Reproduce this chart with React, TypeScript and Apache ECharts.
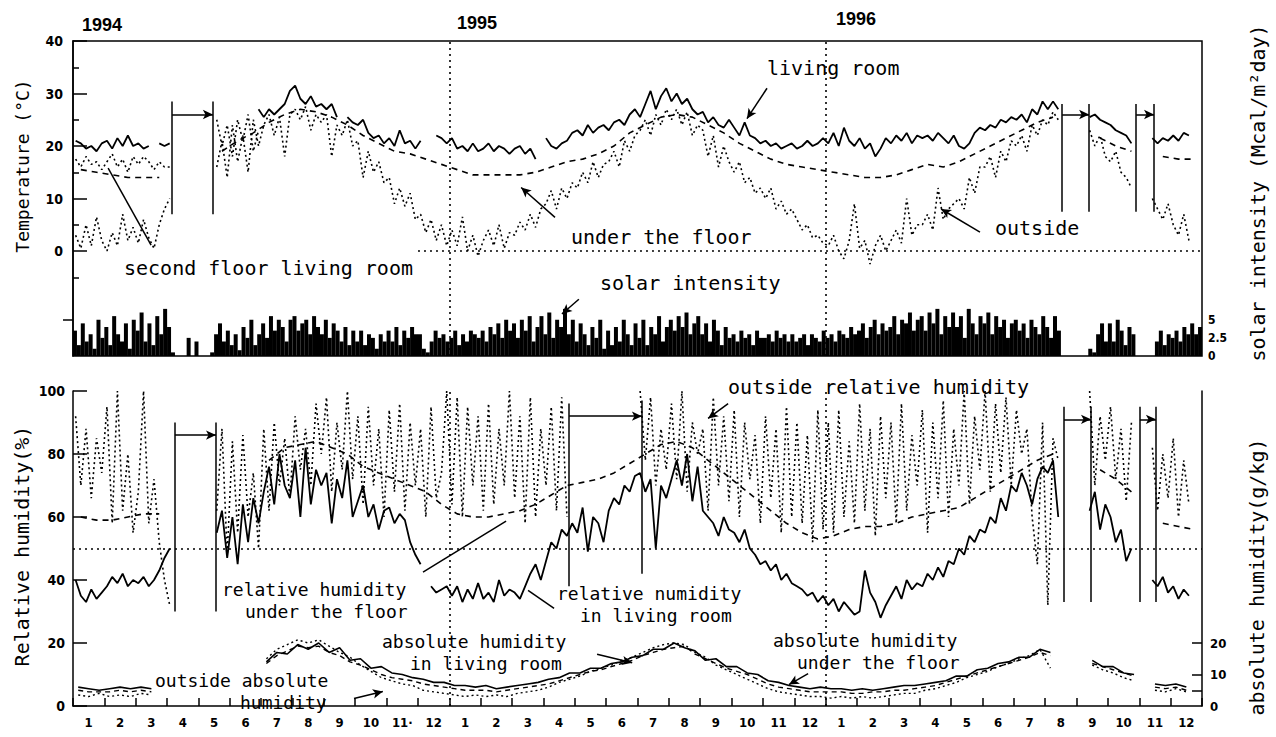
import React, { useEffect, useRef } from "react";
import * as echarts from "echarts";

// ---------- labels ----------
const MONTH_LABELS = [
  "1", "2", "3", "4", "5", "6", "7", "8", "9", "10", "11·", "12",
  "1", "2", "3", "4", "5", "6", "7", "8", "9", "10", "11", "12",
  "1", "2", "3", "4", "5", "6", "7", "8", "9", "10", "11", "12",
];
const YEAR_LABELS = ["1994", "1995", "1996"];
const TEMP_TICK_LABELS = [0, 10, 20, 30, 40];
const SOLAR_TICK_LABELS = [0, 2.5, 5];
const RH_TICK_LABELS = [0, 20, 40, 60, 80, 100];
const ABS_TICK_LABELS = [0, 10, 20];

// ---------- data (month index 0 = Jan 1994) ----------
// living room temperature, 6 samples per month
const LIVING_T: (number | null)[] = [
  21, 20.5, 19.5, 20, 19, 20.5,
  21, 19.5, 21.5, 20, 22, 20,
  20.5, 19.5, 20, null, 20.5, 20,
  20.5, null, null, null, null, null,
  null, null, null, null, null, null,
  null, null, null, null, null, 27,
  25.5, 27, 26, 27, 28, 30.5,
  31.5, 29, 28, 29.5, 27.5, 28,
  27, 28, 25.5, null, 25.5, 24.5,
  24, 25, 22.5, 21.5, 22, 20.5,
  21.5, 20, 23, 20.5, 21, 19.5,
  21, null, null, 22, 21.5, 20.5,
  21.5, 19.5, 20, 19, 20.5, 19,
  19.5, 20.5, 19, 20, 19.5, 18.5,
  19.5, 20, 18.5, 19.5, 17.5, null,
  21.5, 20, 19.5, 20.5, 21, 22.5,
  23, 22, 24, 22.5, 23.5, 24,
  23, 24.5, 25, 24, 26, 27,
  25.5, 28, 30.5, 27, 29.5, 31,
  28.5, 30, 28, 29, 27, 26,
  26.5, 24.5, 25.5, 24, 23.5, 25,
  23.5, 22, 24.5, 22, 21.5, 20.5,
  21, 20, 20.5, 19.5, 20, 20.5,
  19.5, 20, 21, 20, 20.5, 21.5,
  20.5, 22.5, 20, 23.5, 21, 20,
  21.5, 19.5, 20.5, 18, 19.5, 21.5,
  20.5, 22, 21, 22.5, 20.5, 22,
  21.5, 22, 21, 22.5, 21.5, 20.5,
  22, 20, 19.5, 20.5, 22.5, 23.5,
  23, 24, 23.5, 25, 24.5, 25.5,
  25, 26, 24.5, 27, 26, 28.5,
  27, 28.5, 27, null, null, null,
  null, null, 25.5, 26, 25, 24.5,
  24, 23, 22.5, 22, 20.5, null,
  null, null, 21.5, 20.5, 21.5, 21,
  22, 21, 22.5, 22, null, null,
];

// outside temperature, 6 samples per month
const OUTSIDE_T: (number | null)[] = [
  3, 0.5, 5, 1, 6.5, 2,
  0, 3.5, 1, 7, 2, 4.5,
  1.5, 6, 2.5, 0.5, 5, 8,
  10, null, null, null, null, null,
  null, null, null, 16, 21, 14,
  24, 17, 22, 15, 25, 20,
  24, 26, 22, 25.5, 18, 26,
  27, 25, 27.5, 23, 26, 24.5,
  26, 18, 24, 22, 25, 20,
  21, 14, 19, 15, 17, 13,
  14, 9, 12, 8.5, 11, 6,
  7, 3.5, 6, 2, 5, 1,
  4, 1, 6.5, 0, 3, -1,
  2, 4, 1, 5, 0.5, 3.5,
  3, 5.5, 4, 7, 4.5, 8,
  9, 11.5, 8, 12, 10, 13,
  12, 15, 13, 17, 14, 16.5,
  17, 19, 16, 21, 19, 22,
  23, 25, 22, 26, 24, 27,
  25, 27, 24, 26.5, 22, 24,
  23, 18, 22, 16, 20, 17,
  15, 17, 13, 14, 11, 12,
  10, 12, 8, 9.5, 7, 8,
  6, 4, 5, 2.5, 3, 1.5,
  1, 3, 0, -1.5, 2, 9,
  0.5, 2, -2.5, 1, 3, 0,
  2, 4, 1.5, 10, 3, 5,
  5, 7, 4, 12, 6, 8,
  9, 10, 8, 14, 11, 16,
  16, 18, 14, 19, 17, 21,
  20, 22, 19, 24, 22, 25,
  24, 26.5, 25, null, null, null,
  null, null, 23, 20, 22, 18,
  17, 19, 15, 14, 12, null,
  null, null, 10, 8, 6, 9,
  5, 3, 7, 2, null, null,
];

// second floor living room temperature, 6 samples per month (Jan-Jun 1994)
const SECOND_T: (number | null)[] = [
  17.5, 16, 18, 16.5, 17, 15.5,
  17, 18.5, 16, 17.5, 15, 18,
  16.5, 18, 17, 15.5, 17, 16,
  16, null, null, null, null, null,
  null, null, null, 25, 20, 24,
  18, 25, 21, 26, 19, 23,
];

// under the floor temperature, 2 samples per month
const UNDER_T: (number | null)[] = [
  15.5, 15, 14.5, 14, 14, 14, null, null, null, 19, 21, 22.5,
  24.5, 26, 27, 26.5, 25.5, 24, 22, 20.5, 19, 18.5, 17.5, 16.5,
  15.5, 14.5, 14.5, 14.5, 14.5, 15, 16, 17, 17.5, 18.5, 20, 22.5,
  24, 25.5, 26, 25.5, 24, 22.5, 20.5, 19, 17.5, 16.5, 16, 15.5,
  15, 14.5, 14, 14, 14.5, 15.5, 16.5, 16, 17, 18.5, 20, 21.5,
  23, 24.5, 25.5, null, null, 21.5, 20, 19, null, 18, 17.5, 17.5,
];

// solar intensity (Mcal/m2day), 8 samples per month
const SOLAR: number[] = [
  3.5, 1.5, 4.5, 2, 3, 1, 5, 2.5,
  4, 1.5, 5.5, 3, 2, 4.5, 1, 5,
  3.5, 6, 2, 4.5, 1.5, 5.5, 3, 6.5,
  4, 0.5, 0, 0, 0, 2.5, 0, 2,
  0, 0, 0, 0.5, 3, 4.5, 2, 3.5,
  1.5, 3, 0.8, 4, 2.5, 5, 1.5, 3,
  4.5, 2.5, 5.5, 3.5, 5, 4, 2, 5,
  5.5, 3.5, 4.5, 5, 3, 5.5, 4, 3,
  5, 2.5, 4.5, 3.5, 2, 4, 1.5, 3.5,
  2, 3.5, 1.5, 3, 2.5, 1, 3, 2,
  3.5, 2, 4, 1.5, 3.5, 2.5, 4, 3,
  3, 1, 0.5, 2, 3.5, 2.5, 3, 2,
  2.5, 3.5, 1.5, 3, 2, 3.5, 3, 2.5,
  3.5, 2, 4, 3, 4.5, 2.5, 5, 3.5,
  4.5, 2.5, 5, 3.5, 5.5, 2, 4, 5.5,
  3, 6, 2.5, 5, 4, 6.5, 3, 5,
  2, 4.5, 3, 1.5, 4, 2.5, 5, 1,
  3.5, 1.5, 4, 2, 5, 3, 1.5, 4.5,
  2.5, 5, 1.5, 4, 3, 5.5, 2, 4,
  5, 3.5, 5.5, 4, 6, 3, 4.5, 5.5,
  3, 4.5, 2, 5, 3.5, 1.5, 4, 2.5,
  3, 2, 3.5, 2.5, 3, 1.5, 3.5, 2.5,
  2.5, 3, 2, 3.5, 2.5, 3, 2, 3,
  2, 2.5, 3, 1.5, 3, 2.5, 2, 3.5,
  2.5, 3, 2, 3.5, 3, 2.5, 4, 3,
  3.5, 4.5, 2.5, 4, 5, 3, 4.5, 3.5,
  4, 5.5, 3, 5, 4.5, 6, 3.5, 5,
  5.5, 3.5, 6, 4.5, 6.5, 3, 5.5, 4,
  6, 4, 5.5, 2.5, 6.5, 4.5, 3, 5.5,
  4.5, 6, 3, 5.5, 4, 5, 2.5, 4.5,
  5, 3.5, 4.5, 2.5, 5, 4, 3, 5.5,
  4, 2.5, 5.5, 3.5, 0, 0, 0, 0,
  0, 0, 0, 1, 0.5, 3, 4.5, 2,
  4.5, 2, 5, 3.5, 1.5, 4, 3, 0,
  0, 0, 0, 0, 2, 3.5, 1.5, 3,
  2.5, 3.5, 2, 4, 3, 4.5, 3, 4,
];

// relative humidity in living room (%), 6 samples per month
const LIVING_RH: (number | null)[] = [
  40, 35, 33, 37, 34, 36,
  38, 41, 39, 42, 38, 40,
  39, 41, 38, 40, 43, 47,
  50, null, null, null, null, null,
  null, null, null, 55, 62, 47,
  60, 45, 64, 52, 66, 58,
  68, 76, 64, 80, 70, 66,
  78, 60, 82, 64, 75, 70,
  74, 58, 72, 66, 78, 60,
  65, 70, 60, 64, 56, 62,
  63, 58, 61, 59, 52, 48,
  45, null, 38, 36, 37, 38,
  35, 38, 33, 37, 34, 39,
  34, 36, 33, 40, 35, 37,
  36, 34, 38, 42, 45, 40,
  46, 52, 50, 56, 54, 58,
  55, 63, 49, 60, 58, 52,
  62, 66, 64, 70, 68, 73,
  74, 68, 72, 50, 70, 66,
  72, 78, 70, 80, 65, 76,
  62, 60, 58, 54, 60, 56,
  55, 52, 56, 50, 48, 45,
  46, 43, 45, 40, 42, 39,
  38, 37, 35, 36, 33, 35,
  32, 34, 30, 33, 31, 29,
  30, 43, 36, 33, 28, 32,
  35, 38, 34, 40, 37, 39,
  38, 42, 40, 44, 41, 46,
  45, 50, 48, 54, 52, 56,
  55, 60, 58, 66, 62, 70,
  68, 74, 70, 64, 72, 76,
  74, 78, 60, null, null, null,
  null, null, 62, 68, 56, 64,
  60, 52, 56, 46, 50, null,
  null, null, 40, 38, 41, 36,
  38, 34, 37, 35, null, null,
];

// outside relative humidity (%), 6 samples per month
const OUTSIDE_RH: (number | null)[] = [
  92, 70, 88, 66, 85, 74,
  95, 58, 100, 62, 80, 55,
  68, 100, 58, 72, 52, 40,
  32, null, null, null, null, null,
  null, null, null, 62, 88, 48,
  84, 55, 86, 60, 74, 50,
  88, 62, 90, 70, 85, 66,
  92, 75, 88, 70, 96, 80,
  98, 68, 90, 75, 100, 72,
  92, 64, 95, 70, 88, 60,
  94, 68, 96, 62, 90, 70,
  88, 60, 95, 66, 74, 100,
  64, 98, 60, 95, 70, 92,
  62, 96, 64, 88, 70, 100,
  66, 92, 58, 98, 60, 88,
  70, 95, 62, 98, 60, null,
  null, null, null, null, null, null,
  null, null, null, null, null, null,
  100, 78, 98, 70, 88, 75,
  96, 72, 100, 68, 90, 80,
  88, 62, 98, 70, 92, 65,
  94, 60, 90, 72, 86, 58,
  92, 66, 88, 55, 95, 60,
  90, 58, 86, 52, 94, 56,
  90, 55, 94, 60, 84, 58,
  96, 62, 88, 54, 92, 66,
  90, 58, 96, 62, 86, 70,
  94, 55, 90, 66, 97, 60,
  88, 70, 100, 64, 92, 75,
  100, 68, 96, 74, 98, 70,
  94, 80, 88, 60, 45, 90,
  32, 85, 78, null, null, null,
  null, null, 100, 70, 92, 78,
  95, 72, 88, 65, 90, null,
  null, null, 82, 62, 80, 66,
  85, 60, 78, 64, null, null,
];

// relative humidity under the floor (%), 2 samples per month
const UNDER_RH: (number | null)[] = [
  60, 59, 59, 60, 61, 61, null, null, null, null, null, null,
  78, 82, 83, 84, 82, 80, 76, 74, 72, 70, 68, 64,
  61, 60, 60, 61, 62, 64, 67, 70, 71, 72, 74, 77,
  80, 83, 84, 82, 78, 74, 70, 66, 62, 58, 55, 53,
  54, 56, 57, 57, 58, 60, 61, 62, 63, 66, 69, 72,
  75, 78, 80, null, null, 75, 72, 68, null, 58, 57, 56,
];

// absolute humidity (g/kg), 3 samples per month
const ABS_LIVING: (number | null)[] = [
  6, 5.5, 5, 5.5, 6, 5.5, 6, 5.5, null,
  null, null, null, null, null, null, null, null, null,
  14, 17, 16.5, 19.5, 18, 20, 17, 18.5, 14.5,
  15, 12, 12.5, 10.5, 10, 9, 8.5, 7.5, 7.5,
  6.5, 6.5, 6, 6.5, 5.5, 6, 6.5, 7, 7.5,
  8.5, 9, 10.5, 10.5, 12, 12, 13.5, 14, 15.5,
  16, 18, 18, 20, 18.5, 17.5, 14.5, 15, 12.5,
  12.5, 10.5, 10, 8, 7.5, 6.5, 6, 5.5, 6,
  5.5, 5.5, 5, 5.5, 5, 5.5, 6, 6.5, 6.5,
  7, 7.5, 8, 9.5, 9.5, 11.5, 12, 13.5, 14,
  15.5, 15.5, 18, 17, null, null, null, 14.5, 12.5,
  12.5, 10.5, 10, null, 7, 6.5, 7, 6, null,
];
const ABS_UNDER: (number | null)[] = [
  5, 4.5, 4.5, 4.5, 5, 4.5, 5, 4.5, null,
  null, null, null, null, null, null, null, null, null,
  13.5, 16, 17.5, 19, 18.5, 19, 17, 16, 14,
  13, 11.5, 10, 9, 8.5, 8, 7, 6.5, 6,
  5.5, 5, 5, 5, 4.5, 5, 5.5, 6, 6.5,
  7, 8, 9, 10, 11, 11.5, 12.5, 13.5, 14.5,
  16, 17, 18, 18.5, 19, 16.5, 15, 13.5, 12,
  11, 10, 8.5, 7, 6, 5.5, 5, 4.5, 4.5,
  4.5, 4.5, 4, 4, 4.5, 4.5, 5, 5, 5.5,
  6, 6.5, 7.5, 8.5, 9.5, 10.5, 11.5, 12.5, 13.5,
  14.5, 15.5, 17, 16, null, null, null, 13.5, 12.5,
  11.5, 10.5, 9.5, null, 6, 5.5, 6, 5, null,
];
const ABS_OUTSIDE: (number | null)[] = [
  3.5, 3, 4, 3, 3.5, 3, 4, 3.5, null,
  null, null, null, null, null, null, null, null, null,
  15, 18, 19.5, 21, 20, 21, 19, 17, 15.5,
  13, 11, 9, 8, 7, 6.5, 5, 4.5, 4,
  3.5, 3, 3.5, 3, 3.5, 3, 4, 4.5, 5,
  6, 7.5, 8.5, 9.5, 11, 12, 13, 14.5, 15.5,
  17, 18.5, 19.5, 20, 19.5, 17, 15.5, 13, 11.5,
  10, 8.5, 7, 5.5, 4.5, 4, 3.5, 3, 3,
  2.5, 3, 2.5, 3, 2.5, 3, 3.5, 4, 4,
  5, 5.5, 6.5, 7.5, 9, 10, 11, 12.5, 13.5,
  15, 16, 18, 12, null, null, null, 13, 11.5,
  10.5, 9, 8, null, 5, 4.5, 5.5, 4.5, null,
];

// ---------- styling ----------
const MONO = "'DejaVu Sans Mono', 'Liberation Mono', monospace";
const TICK_FONT = "'Liberation Sans Narrow', 'DejaVu Sans Condensed', 'Liberation Sans', sans-serif";
const YEAR_FONT = "'Liberation Sans', Arial, sans-serif";
const BLACK = "#000";

const toXY = (arr: (number | null)[], perMonth: number) =>
  arr.map((v, i) => [(i + 0.5) / perMonth, v === null ? "-" : v]);

const seg = (x1: number, y1: number, x2: number, y2: number, arrow = false, dashed = false) => [
  { coord: [x1, y1], symbol: "none", lineStyle: { color: BLACK, width: 1.5, type: dashed ? [2, 4] : "solid" } },
  { coord: [x2, y2], symbol: arrow ? "arrow" : "none", symbolSize: [7, 10] },
];

const lineSeries = (name: string, data: any[], xi: number, yi: number, width: number, type: any, extra: any = {}) => ({
  name,
  type: "line",
  xAxisIndex: xi,
  yAxisIndex: yi,
  data,
  symbol: "none",
  showSymbol: false,
  connectNulls: false,
  silent: true,
  lineStyle: { color: BLACK, width, type },
  ...extra,
});

const markLineBase = (data: any[]) => ({
  silent: true,
  symbol: ["none", "none"],
  label: { show: false },
  lineStyle: { color: BLACK, width: 1.5, type: "solid" },
  emphasis: { disabled: true },
  data,
});

const txt = (text: string, x: number, y: number, opt: any = {}) => ({
  type: "text",
  x,
  y,
  rotation: opt.rot || 0,
  silent: true,
  style: {
    text,
    fill: BLACK,
    fontSize: opt.size || 20,
    fontFamily: opt.family || MONO,
    fontWeight: opt.weight || "normal",
    textAlign: opt.align || "left",
    textVerticalAlign: "middle",
    align: opt.align || "left",
    verticalAlign: "middle",
  },
});

export default function App() {
  const ref = useRef<HTMLDivElement>(null);

  useEffect(() => {
    if (!ref.current) return;
    const chart = echarts.init(ref.current, null, { renderer: "svg" });

    const tickLine = { color: BLACK, width: 1.5 };
    const axisLabelStyle = { color: BLACK, fontFamily: TICK_FONT, fontWeight: "bold", fontSize: 14 };
    const L2 = 18; // size of two-line labels

    const option: any = {
      animation: false,
      backgroundColor: "#fff",
      grid: [
        { left: 73, right: 74, top: 41, height: 315, show: true, borderColor: BLACK, borderWidth: 1.5, backgroundColor: "transparent" },
        { left: 73, right: 74, top: 298, height: 58 },
        { left: 73, right: 74, top: 391, height: 315 },
      ],
      xAxis: [
        { gridIndex: 0, type: "value", min: 0, max: 36, show: false },
        { gridIndex: 1, type: "value", min: 0, max: 36, show: false },
        { gridIndex: 2, type: "value", min: 0, max: 36, show: false },
        {
          gridIndex: 2,
          type: "category",
          data: MONTH_LABELS,
          position: "bottom",
          axisLine: { show: true, lineStyle: tickLine },
          axisTick: { show: true, inside: true, length: 8, interval: 0, lineStyle: tickLine },
          axisLabel: { interval: 0, margin: 10, color: BLACK, fontFamily: TICK_FONT, fontWeight: "bold", fontSize: 13 },
          splitLine: { show: false },
        },
      ],
      yAxis: [
        {
          gridIndex: 0, type: "value", position: "left", min: -20, max: 40, interval: 10,
          axisLine: { show: true, lineStyle: tickLine },
          axisTick: { show: true, inside: true, length: 14, lineStyle: tickLine, customValues: TEMP_TICK_LABELS },
          axisLabel: { ...axisLabelStyle, margin: 10, customValues: TEMP_TICK_LABELS, formatter: (v: number) => (v >= 0 ? String(v) : "") },
          splitLine: { show: false },
        },
        {
          gridIndex: 0, type: "value", position: "left", min: -20, max: 40, interval: 5,
          axisLine: { show: false },
          axisTick: { show: true, inside: true, length: 6, lineStyle: tickLine, customValues: [-5, 5, 15, 25, 35] },
          axisLabel: { show: false },
          splitLine: { show: false },
        },
        {
          gridIndex: 1, type: "value", position: "right", min: 0, max: 8, interval: 2.5,
          axisLine: { show: false },
          axisTick: { show: true, inside: true, length: 10, lineStyle: tickLine, customValues: [5] },
          axisLabel: { ...axisLabelStyle, fontSize: 12, margin: 6, customValues: SOLAR_TICK_LABELS, formatter: (v: number) => (v <= 5 ? String(v) : "") },
          splitLine: { show: false },
        },
        {
          gridIndex: 2, type: "value", position: "left", min: 0, max: 100, interval: 20,
          axisLine: { show: true, lineStyle: tickLine },
          axisTick: { show: true, inside: true, length: 14, lineStyle: tickLine, customValues: RH_TICK_LABELS },
          axisLabel: { ...axisLabelStyle, margin: 8, customValues: RH_TICK_LABELS },
          splitLine: { show: false },
        },
        {
          gridIndex: 2, type: "value", position: "right", min: 0, max: 100, interval: 10,
          axisLine: { show: true, lineStyle: tickLine },
          axisTick: { show: true, inside: true, length: 10, lineStyle: tickLine, customValues: [5, 10, 20] },
          axisLabel: { ...axisLabelStyle, fontSize: 13, margin: 8, customValues: ABS_TICK_LABELS, formatter: (v: number) => (v <= 20 ? String(v) : "") },
          splitLine: { show: false },
        },
      ],
      series: [
        // ---- top panel: temperatures ----
        lineSeries("living room", toXY(LIVING_T, 6), 0, 0, 1.8, "solid", {
          markLine: markLineBase([
            { xAxis: 12, lineStyle: { color: BLACK, width: 1.6, type: [2, 4] } },
            { xAxis: 24, lineStyle: { color: BLACK, width: 1.6, type: [2, 4] } },
            seg(11, 0, 36, 0, false, true),
            // brackets (missing data)
            seg(3.16, 28.5, 3.16, 7),
            seg(4.46, 28.5, 4.46, 7),
            seg(3.16, 26, 4.46, 26, true),
            seg(31.54, 28, 31.54, 7.5),
            seg(32.4, 28, 32.4, 7.5),
            seg(31.54, 26, 32.4, 26, true),
            seg(33.9, 28, 33.9, 7.5),
            seg(34.47, 28, 34.47, 7.5),
            seg(33.9, 26, 34.47, 26, true),
            // pointers
            seg(2.49, 1.1, 1.12, 15.8),
            seg(15.37, 6.4, 14.29, 12.1, true),
            seg(22.13, 31, 21.49, 25.2, true),
            seg(28.92, 3.6, 27.68, 8, true),
            seg(16.13, -9.2, 15.59, -12, true),
          ]),
        }),
        lineSeries("under the floor", toXY(UNDER_T, 2), 0, 0, 1.6, [6, 5]),
        lineSeries("outside", toXY(OUTSIDE_T, 6), 0, 0, 1.6, [2, 3]),
        lineSeries("second floor living room", toXY(SECOND_T, 6), 0, 0, 1.6, [2, 3]),
        // ---- solar intensity ----
        {
          name: "solar intensity",
          type: "bar",
          xAxisIndex: 1,
          yAxisIndex: 2,
          data: toXY(SOLAR, 8),
          barWidth: 4,
          silent: true,
          itemStyle: { color: BLACK },
        },
        // ---- bottom panel: relative humidity ----
        lineSeries("relative humidity in living room", toXY(LIVING_RH, 6), 2, 3, 1.8, "solid", {
          markLine: markLineBase([
            { xAxis: 12, lineStyle: { color: BLACK, width: 1.6, type: [2, 4] } },
            { xAxis: 24, lineStyle: { color: BLACK, width: 1.6, type: [2, 4] } },
            { yAxis: 50, lineStyle: { color: BLACK, width: 1.5, type: [2, 4] } },
            // brackets
            seg(3.25, 90, 3.25, 30),
            seg(4.56, 90, 4.56, 30),
            seg(3.25, 86, 4.56, 86, true),
            seg(15.82, 96, 15.82, 38),
            seg(18.14, 97, 18.14, 42),
            seg(15.82, 92, 18.14, 92, true),
            seg(31.6, 95, 31.6, 33),
            seg(32.46, 95, 32.46, 33),
            seg(31.6, 91, 32.46, 91, true),
            seg(34.02, 95, 34.02, 33),
            seg(34.53, 95, 34.53, 33),
            seg(34.02, 91, 34.53, 91, true),
            // pointers
            seg(20.89, 96, 20.25, 91.3, true),
            seg(11.16, 42.5, 13.81, 58.7),
            seg(14.51, 36.7, 15.34, 31),
            seg(16.71, 16.4, 17.83, 13.7, true),
            seg(23.44, 10.3, 22.83, 6.8, true),
            seg(8.96, 2.4, 9.88, 4.6, true),
          ]),
        }),
        lineSeries("relative humidity under the floor", toXY(UNDER_RH, 2), 2, 3, 1.6, [6, 5]),
        lineSeries("outside relative humidity", toXY(OUTSIDE_RH, 6), 2, 3, 1.6, [2, 3]),
        // ---- absolute humidity ----
        lineSeries("absolute humidity in living room", toXY(ABS_LIVING, 3), 2, 4, 1.6, "solid"),
        lineSeries("absolute humidity under the floor", toXY(ABS_UNDER, 3), 2, 4, 1.4, [5, 4]),
        lineSeries("outside absolute humidity", toXY(ABS_OUTSIDE, 3), 2, 4, 1.4, [2, 3]),
      ],
      graphic: [
        txt(YEAR_LABELS[0], 102, 25, { family: YEAR_FONT, size: 18, weight: "bold", align: "center" }),
        txt(YEAR_LABELS[1], 477, 23, { family: YEAR_FONT, size: 18, weight: "bold", align: "center" }),
        txt(YEAR_LABELS[2], 856, 19, { family: YEAR_FONT, size: 18, weight: "bold", align: "center" }),
        txt("Temperature (°C)", 22, 166, { rot: Math.PI / 2, align: "center", size: 18 }),
        txt("Relative humidity(%)", 22, 546, { rot: Math.PI / 2, align: "center" }),
        txt("solar intensity (Mcal/m²day)", 1258, 193, { rot: Math.PI / 2, align: "center" }),
        txt("absolute humidity(g/kg)", 1257, 577, { rot: Math.PI / 2, align: "center" }),
        txt("living room", 767, 68),
        txt("second floor living room", 124, 268),
        txt("under the floor", 571, 237),
        txt("outside", 995, 228),
        txt("solar intensity", 600, 283),
        txt("outside relative humidity", 728, 387),
        txt("relative humidity", 222, 589, { size: L2 }),
        txt("under the floor", 245, 611, { size: L2 }),
        txt("relative numidity", 557, 593, { size: L2 }),
        txt("in living room", 580, 615, { size: L2 }),
        txt("absolute humidity", 382, 641, { size: L2 }),
        txt("in living room", 410, 663, { size: L2 }),
        txt("absolute humidity", 773, 640, { size: L2 }),
        txt("under the floor", 797, 662, { size: L2 }),
        txt("outside absolute", 155, 680, { size: L2 }),
        txt("humidity", 240, 702, { size: L2 }),
      ],
    };

    chart.setOption(option);
    return () => chart.dispose();
  }, []);

  return (
    <div
      ref={ref}
      style={{ position: "fixed", left: 0, top: 0, width: 1276, height: 737, background: "#fff" }}
    />
  );
}
